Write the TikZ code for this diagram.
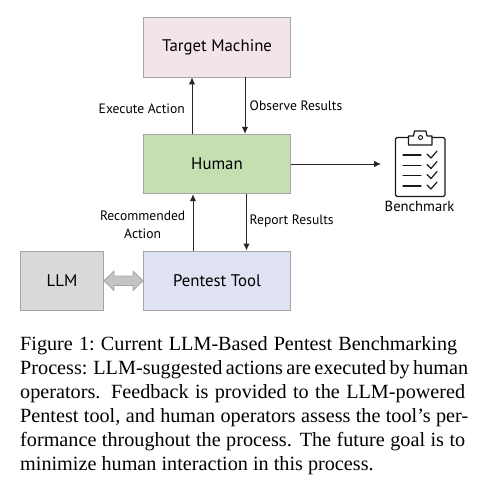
\documentclass[tikz,border=0pt]{standalone}
\usepackage{fontspec}
\setmainfont{Liberation Serif}
\newfontfamily\handfont{PT Sans}
\usetikzlibrary{arrows.meta}
\definecolor{edgegray}{HTML}{A8A4A6}
\definecolor{targetfill}{HTML}{F3E4E9}
\definecolor{humanfill}{HTML}{C5DFB1}
\definecolor{toolfill}{HTML}{DFE2F3}
\definecolor{llmfill}{HTML}{D9D9D9}
\definecolor{dblfill}{HTML}{C4C4C4}
\tikzset{
  x=1pt,y=-1pt,
  flowbox/.style={draw=edgegray,line width=0.9pt,minimum height=59.5pt,inner sep=0pt,font=\handfont\fontsize{16.8}{20}\selectfont},
  flowarrow/.style={draw=black!85,line width=1pt,-{Latex[length=7pt,width=6.5pt]}},
  flowlabel/.style={font=\handfont\fontsize{13.6}{18}\selectfont,inner sep=0pt,align=center},
  icon/.style={draw=black!90,line width=1.2pt,line join=round,line cap=round},
  captiontext/.style={font=\fontsize{20.2}{24}\selectfont,inner sep=0pt,anchor=base west,align=left}
}
\begin{document}
\begin{tikzpicture}
\useasboundingbox (0,0) rectangle (483,483);
\fill[white] (0,0) rectangle (483,483);
\node[flowbox,fill=targetfill,minimum width=147pt] (target) at (217,47.2) {Target Machine};
\node[flowbox,fill=humanfill,minimum width=147pt] (human) at (217,164) {Human};
\node[flowbox,fill=toolfill,minimum width=147pt] (tool) at (217,280.7) {Pentest Tool};
\node[flowbox,fill=llmfill,minimum width=83pt] (llm) at (62,280.7) {LLM};
\coordinate (bench) at (381,164);
\draw[flowarrow] (human.north -| 192,0) -- (target.south -| 192,0);
\draw[flowarrow] (target.south -| 245,0) -- (human.north -| 245,0);
\draw[flowarrow] (tool.north -| 193,0) -- (human.south -| 193,0);
\draw[flowarrow] (human.south -| 246.5,0) -- (tool.north -| 246.5,0);
\draw[flowarrow] (human.east) -- (bench);
\node[flowlabel,anchor=east] (execlabel) at (185,109) {Execute Action};
\node[flowlabel,anchor=west] (obslabel) at (249.5,106) {Observe Results};
\node[flowlabel,anchor=east] (reclabel) at (185.5,225) {Recommended\\Action};
\node[flowlabel,anchor=west] (replabel) at (249.5,221) {Report Results};
\draw[draw=edgegray,fill=dblfill,line width=0.8pt,line join=round]
  (llm.east) -- (114,271) -- (114,276) -- (133,276) -- (133,271) -- (tool.west)
  -- (133,290.5) -- (133,285.5) -- (114,285.5) -- (114,290.5) -- cycle;
% clipboard icon
\draw[icon] (408,137.5) -- (397,137.5) -- (395.5,139) -- (395.5,195) -- (397,196.5) -- (443.5,196.5) -- (445,195) -- (445,139) -- (443.5,137.5) -- (432,137.5);
\draw[icon] (408.5,145) -- (408.5,136) -- (413.5,136) -- (414.5,131) -- (426,131) -- (427,136) -- (432,136) -- (432,145) -- cycle;
\draw[icon,line width=1pt] (420.5,137.5) circle (2pt);
\foreach \yy in {155,165.5,175.5,186}{
  \draw[icon] (403,\yy) -- (421,\yy);
  \draw[icon] (427,\yy-1) -- (431,\yy+3) -- (437,\yy-4);
}
\node[flowlabel,font=\handfont\fontsize{14.6}{18}\selectfont] (benchlabel) at (419.5,206) {Benchmark};
\node[captiontext] (caption) at (20,470) {\frenchspacing
\hbox to 437pt{Figure 1: Current LLM-Based Pentest Benchmarking}\\
\hbox to 445pt{Process: LLM-suggested actions are executed by human}\\
\hbox to 445pt{operators. Feedback is provided to the LLM-powered}\\
\hbox to 448pt{Pentest tool, and human operators assess the tool’s per-}\\
\hbox to 445pt{formance throughout the process. The future goal is to}\\
minimize human interaction in this process.};
\end{tikzpicture}
\end{document}
